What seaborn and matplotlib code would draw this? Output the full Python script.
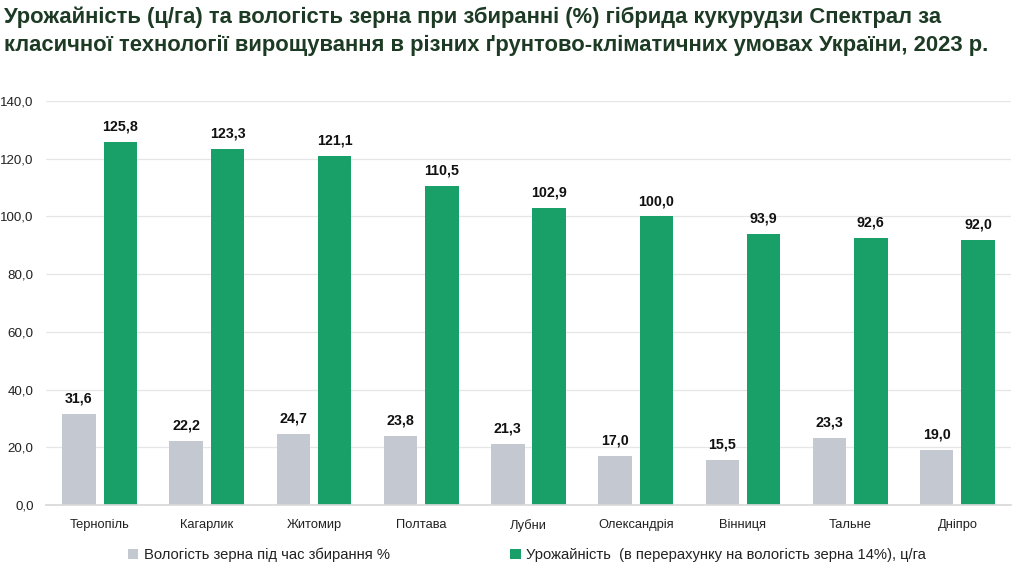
import matplotlib
matplotlib.use("Agg")
import matplotlib.pyplot as plt
import seaborn as sns
import pandas as pd
from matplotlib.patches import Patch
from matplotlib.ticker import FuncFormatter

categories = ["Тернопіль", "Кагарлик", "Житомир", "Полтава", "Лубни",
              "Олександрія", "Вінниця", "Тальне", "Дніпро"]
moisture = [31.6, 22.2, 24.7, 23.8, 21.3, 17.0, 15.5, 23.3, 19.0]
yield_vals = [125.8, 123.3, 121.1, 110.5, 102.9, 100.0, 93.9, 92.6, 92.0]
series_names = ["Вологість зерна під час збирання %",
                "Урожайність  (в перерахунку на вологість зерна 14%), ц/га"]
title = ("Урожайність (ц/га) та вологість зерна при збиранні (%) гібрида кукурудзи Спектрал за\n"
         "класичної технології вирощування в різних ґрунтово-кліматичних умовах України, 2023 р.")

colors = ["#c3c8d1", "#18a068"]

df = pd.DataFrame({
    "cat": categories * 2,
    "val": moisture + yield_vals,
    "series": [series_names[0]] * len(categories) + [series_names[1]] * len(categories),
})

sns.set_theme(style="white")
plt.rcParams["font.family"] = ["Liberation Sans", "DejaVu Sans"]

fig = plt.figure(figsize=(10.21, 5.66), dpi=100)
ax = fig.add_axes([46 / 1021, 1 - 505 / 566, (1011 - 46) / 1021, (505 - 101) / 566])

sns.barplot(data=df, x="cat", y="val", hue="series", order=categories,
            hue_order=series_names, palette=colors, width=0.77, gap=0.19,
            ax=ax, legend=False, saturation=1, edgecolor="none")

ax.set_ylim(0, 140)
ax.set_yticks(range(0, 141, 20))
ax.yaxis.set_major_formatter(FuncFormatter(lambda v, p: f"{v:.1f}".replace(".", ",")))
ax.grid(axis="y", color="#e6e6e6", linewidth=0.9)
ax.set_axisbelow(True)
for s in ["top", "right", "left"]:
    ax.spines[s].set_visible(False)
ax.spines["bottom"].set_color("#d9d9d9")
ax.tick_params(axis="both", length=0, colors="#222222")
ax.tick_params(axis="x", pad=10, labelsize=9.3)
ax.tick_params(axis="y", pad=9, labelsize=9.6)
ax.set_xlabel("")
ax.set_ylabel("")

for cont, vals in zip(ax.containers, [moisture, yield_vals]):
    ax.bar_label(cont, labels=[f"{v:.1f}".replace(".", ",") for v in vals],
                 padding=6, fontsize=10.3, fontweight="bold", color="#111111")

handles = [Patch(facecolor=c, edgecolor="none") for c in colors]
fig.legend(handles, series_names, loc="lower center", ncol=2,
           bbox_to_anchor=(0.516, -0.016), frameon=False, fontsize=10.6,
           handlelength=0.7, handleheight=0.7, handletextpad=0.35,
           columnspacing=8.2, labelcolor="#222222")

fig.text(0.004, 0.988, title, ha="left", va="top", fontsize=15.8, fontweight="bold",
         color="#1d3b24", linespacing=1.42)

fig.savefig("out.png", dpi=100, facecolor="white")
